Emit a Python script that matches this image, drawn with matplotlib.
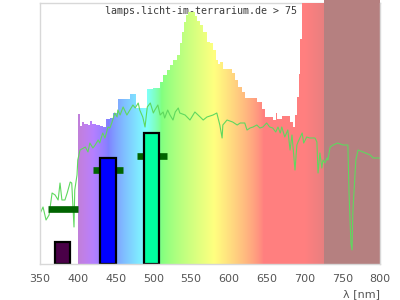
import matplotlib
matplotlib.use('Agg')
import matplotlib.pyplot as plt
import numpy as np

# Lampenspektrum (Stufen: Startwellenlänge in nm, relative Höhe 0..261)
lamp_wl = [400, 403, 406, 408, 413.5, 416, 419, 424, 429.5, 433.5, 437.5, 442.5,
           446.5, 453, 469, 477, 491.5, 499.5, 509, 513, 518, 522, 526, 531,
           535, 538, 540.5, 543, 546, 555, 558, 562, 566, 571, 575, 579, 583,
           585.5, 588, 592, 604, 608, 612, 617.5, 621.5, 637, 644, 648, 658.5,
           662.5, 664, 670, 681, 685, 687.5, 690, 693, 694, 697, 800]
lamp_val = [150, 138, 142, 140, 139, 143, 140, 139, 138, 137, 145, 146,
            151, 165, 170, 156, 175, 176, 182, 189, 194, 199, 204, 209,
            221, 232, 242, 249, 252, 248, 243, 239, 232, 222, 221, 214, 204,
            200, 202, 195, 191, 184, 177, 172, 166, 162, 155, 147, 144,
            151, 145, 148, 142, 137, 149, 167, 190, 225, 264, 264]

# Referenzspektrum (grüne Linie)
ref_wl = [351, 354, 358, 362, 366, 370, 374, 376.5, 379, 383, 386, 390, 392, 395,
          396, 399, 400, 403, 410, 413.5, 416, 420, 423, 427, 429, 433, 436, 440,
          442.5, 445, 449, 452, 453, 456, 460, 465, 469, 473, 476, 480, 482, 486,
          489, 492, 496, 500, 502, 506, 509, 513, 515, 519, 522, 526, 529, 533,
          535, 542, 548.5, 555, 562, 566, 571, 579, 584, 588, 591, 592, 597.5,
          605, 611, 615, 621, 624, 628, 632, 637, 641, 645, 650, 654, 658, 662,
          665, 668, 670, 674, 678, 681, 683.5, 687.5, 690, 691.5, 697, 699, 703,
          707, 714, 716.5, 718, 720.5, 723, 724.5, 727, 730, 731, 734, 738, 744,
          751, 757.5, 759, 761.5, 763, 764, 765.5, 768, 771, 777.5, 787, 791,
          796, 800]
ref_val = [52, 57, 44, 49, 71, 69, 64, 81, 64, 64, 71, 82, 81, 37,
           74, 89, 104, 114, 117, 112, 121, 116, 119, 124, 121, 131, 126, 137,
           136, 141, 151, 147, 154, 149, 157, 149, 154, 159, 156, 161, 154, 147,
           137, 157, 161, 151, 154, 159, 149, 152, 146, 154, 149, 144, 152, 156,
           151, 149, 144, 152, 147, 144, 147, 149, 151, 139, 126, 139, 144,
           142, 139, 141, 141, 134, 136, 137, 139, 136, 137, 141, 137, 136, 132,
           137, 131, 137, 127, 134, 114, 129, 94, 119, 122, 131, 121, 127,
           126, 126, 122, 91, 111, 96, 104, 101, 106, 104, 117, 119, 121,
           119, 119, 71, 21, 14, 51, 71, 104, 114, 112, 109, 106,
           106, 106]

# LED-Balken: Mitte, Höhe, Farbe
led_center = [380, 440, 498]
led_height = [22, 106, 131]
led_color = ['#4a0048', '#0000ff', '#00ffa0']
led_width = 20

# Halbwertsbreiten (dunkelgrüne Balken)
fwhm_center = [380, 440, 498]
fwhm_level = [55, 94, 108]
fwhm_width = 40

ir_start = 726
xticks = [350, 400, 450, 500, 550, 600, 650, 700, 750, 800]


def wavelength_to_rgb(wl, gamma=0.8):
    wl = float(wl)
    if wl < 440:
        r, g, b = -(wl - 440) / 60, 0.0, 1.0
    elif wl < 490:
        r, g, b = 0.0, (wl - 440) / 50, 1.0
    elif wl < 510:
        r, g, b = 0.0, 1.0, -(wl - 510) / 20
    elif wl < 580:
        r, g, b = (wl - 510) / 70, 1.0, 0.0
    elif wl < 645:
        r, g, b = 1.0, -(wl - 645) / 65, 0.0
    else:
        r, g, b = 1.0, 0.0, 0.0
    if wl < 420:
        f = 0.3 + 0.7 * (wl - 380) / 40
    elif wl > 700:
        f = 0.3 + 0.7 * (780 - wl) / 80
    else:
        f = 1.0
    rgb = np.array([r, g, b]) * f
    rgb = np.where(rgb > 0, rgb ** gamma, 0)
    return 0.5 + 0.5 * rgb  # pastell


fig = plt.figure(figsize=(4, 3), dpi=100)
ax = fig.add_axes([0.1, 0.12, 0.85, 0.87])

# Regenbogen, beschnitten auf das Lampenspektrum
grad_wl = np.linspace(400, 800, 400)
grad = np.array([[wavelength_to_rgb(w) for w in grad_wl]])
im = ax.imshow(grad, extent=[400, 800, 0, 264], aspect='auto', zorder=2.7,
               interpolation='bilinear', origin='lower')
poly = ax.fill_between(lamp_wl, lamp_val, step='post')
clip = poly.get_paths()[0]
poly.remove()
im.set_clip_path(clip, transform=ax.transData)

# IR-Bereich
ax.axvspan(ir_start, 800, ymin=0, ymax=264 / 261, color='#b58080', zorder=2.8,
           clip_on=False, lw=0)

ax.plot(ref_wl, ref_val, color='#5fd85f', lw=0.8, zorder=3)

for c, lev in zip(fwhm_center, fwhm_level):
    ax.hlines(lev, c - fwhm_width / 2, c + fwhm_width / 2, color='#006400',
              lw=4.8, zorder=3.1)

ax.bar(led_center, led_height, width=led_width, color=led_color,
       edgecolor='black', linewidth=1.6, zorder=3.2)

ax.text(0.756, 0.969, 'lamps.licht-im-terrarium.de > 75', transform=ax.transAxes,
        ha='right', va='center', family='DejaVu Sans Mono', fontsize=7.2,
        color='#3a3a3a', zorder=1)

ax.set_xlim(350, 800)
ax.set_ylim(0, 261)
ax.set_xticks(xticks)
ax.set_yticks([])
ax.tick_params(axis='x', length=0, pad=7, labelsize=8, labelcolor='#555555')
ax.set_xlabel('λ [nm]', loc='right', fontsize=8, color='#555555', labelpad=4)
for name, sp in ax.spines.items():
    sp.set_color('#d8d8d8')
    sp.set_linewidth(1)
    sp.set_zorder(1 if name == 'top' else 5)

fig.savefig('out.png', dpi=100)
